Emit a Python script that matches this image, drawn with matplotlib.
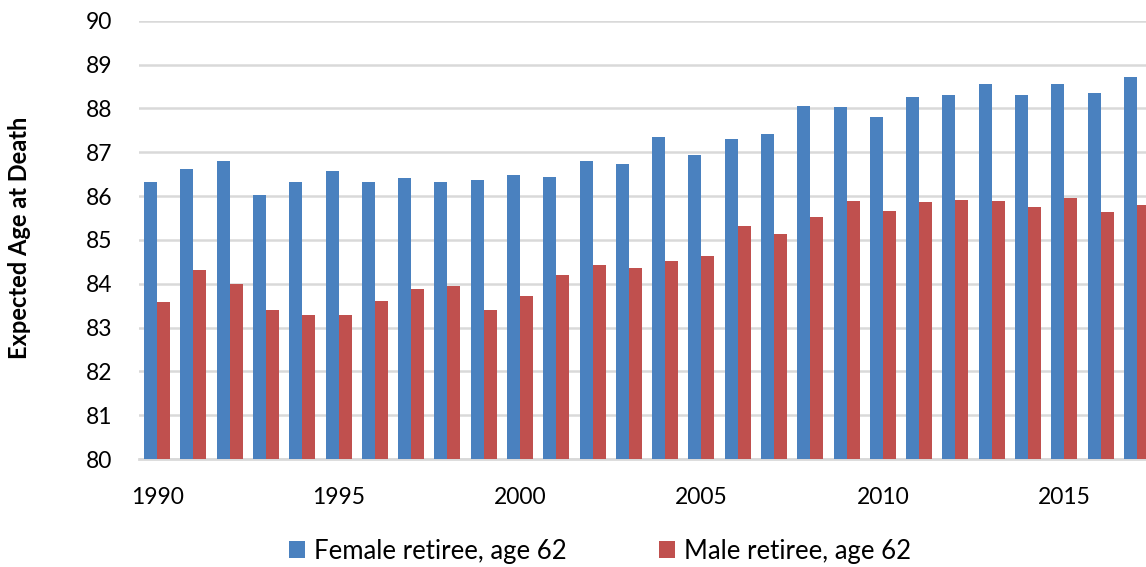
import matplotlib
matplotlib.use("Agg")
import matplotlib.pyplot as plt
import numpy as np

plt.rcParams['font.family'] = ['Lato', 'DejaVu Sans']

years = list(range(1990, 2018))
female = [86.32, 86.62, 86.80, 86.02, 86.32, 86.57, 86.32, 86.41, 86.32, 86.37,
          86.48, 86.43, 86.80, 86.73, 87.35, 86.94, 87.30, 87.42, 88.05, 88.03,
          87.80, 88.26, 88.30, 88.56, 88.30, 88.56, 88.35, 88.72]
male = [83.58, 84.31, 83.99, 83.40, 83.29, 83.29, 83.60, 83.88, 83.95, 83.40,
        83.72, 84.20, 84.43, 84.36, 84.52, 84.63, 85.32, 85.13, 85.52, 85.89,
        85.66, 85.86, 85.91, 85.89, 85.75, 85.95, 85.64, 85.80]
xticks = [1990, 1995, 2000, 2005, 2010, 2015]
yticks = list(range(80, 91))

BLUE = "#4A81BF"
RED = "#C0504E"
GRID = "#D9D9D9"

fig = plt.figure(figsize=(11.46, 5.67), dpi=100)
ax = fig.add_axes([139 / 1146, 1 - 459 / 567, 1 - 139 / 1146, (459 - 20.7) / 567])

x = np.array(years)
w = 0.358
ax.bar(x - w / 2, female, width=w, color=BLUE, label="Female retiree, age 62", zorder=3)
ax.bar(x + w / 2, male, width=w, color=RED, label="Male retiree, age 62", zorder=3)

ax.set_ylim(80, 90)
ax.set_xlim(1989.5, 2017.25)
ax.set_yticks(yticks)
ax.set_xticks(xticks)
ax.yaxis.grid(True, color=GRID, linewidth=1.8, zorder=0)
ax.set_axisbelow(True)
for side in ["top", "right", "left"]:
    ax.spines[side].set_visible(False)
ax.spines["bottom"].set_color(GRID)
ax.spines["bottom"].set_linewidth(2.0)
ax.tick_params(axis="both", length=0, labelsize=16.5, colors="black")
ax.tick_params(axis="y", pad=19)
ax.tick_params(axis="x", pad=20)

fig.text(20 / 1146, 1 - 238 / 567, "Expected Age at Death", rotation=90,
         ha="center", va="center", fontsize=17, fontweight="bold")

fig.legend(loc="center", bbox_to_anchor=(600 / 1146, 1 - 551 / 567), ncol=2,
           frameon=False, fontsize=18.5, handlelength=0.62, handleheight=0.62,
           handletextpad=0.35, columnspacing=3.6)

fig.savefig("out.png", dpi=100)
